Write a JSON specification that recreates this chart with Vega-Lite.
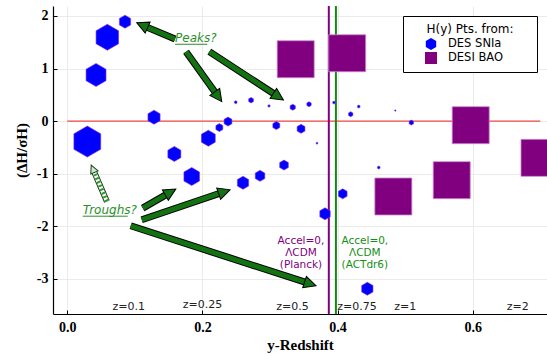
{
  "$schema": "https://vega.github.io/schema/vega-lite/v6.json",
  "width": 494,
  "height": 308,
  "autosize": {"type": "none"},
  "padding": {"left": 53, "top": 6, "right": 0, "bottom": 42},
  "background": "white",
  "config": {
    "view": {"stroke": null},
    "legend": {"symbolStrokeWidth": 0}
  },
  "datasets": {
    "hline": [{"x": 0, "x2": 0.7, "y": 0}],
    "vlines": [{"x": 0.387, "model": "Planck"}, {"x": 0.3975, "model": "ACTdr6"}],
    "bao": [
      {"x": 0.3380, "y": 1.177, "source": "DESI BAO"},
      {"x": 0.4142, "y": 1.291, "source": "DESI BAO"},
      {"x": 0.5970, "y": -0.078, "source": "DESI BAO"},
      {"x": 0.6988, "y": -0.700, "source": "DESI BAO"},
      {"x": 0.4825, "y": -1.435, "source": "DESI BAO"},
      {"x": 0.5689, "y": -1.124, "source": "DESI BAO"}
    ],
    "snia": [
      {"x": 0.0854, "y": 1.892, "w": 13, "source": "DES SNIa"},
      {"x": 0.0592, "y": 1.595, "w": 26, "source": "DES SNIa"},
      {"x": 0.0425, "y": 0.878, "w": 23, "source": "DES SNIa"},
      {"x": 0.0296, "y": -0.390, "w": 31, "source": "DES SNIa"},
      {"x": 0.1283, "y": 0.074, "w": 14, "source": "DES SNIa"},
      {"x": 0.1584, "y": -0.624, "w": 15, "source": "DES SNIa"},
      {"x": 0.1841, "y": -1.055, "w": 18, "source": "DES SNIa"},
      {"x": 0.2087, "y": -0.325, "w": 16, "source": "DES SNIa"},
      {"x": 0.2250, "y": -0.124, "w": 8, "source": "DES SNIa"},
      {"x": 0.2378, "y": -0.010, "w": 9, "source": "DES SNIa"},
      {"x": 0.2492, "y": 0.359, "w": 3, "source": "DES SNIa"},
      {"x": 0.2719, "y": 0.397, "w": 5.5, "source": "DES SNIa"},
      {"x": 0.2985, "y": 0.289, "w": 2.5, "source": "DES SNIa"},
      {"x": 0.3093, "y": -0.086, "w": 8, "source": "DES SNIa"},
      {"x": 0.2600, "y": -1.175, "w": 13, "source": "DES SNIa"},
      {"x": 0.2852, "y": -1.042, "w": 11, "source": "DES SNIa"},
      {"x": 0.3207, "y": -0.838, "w": 10, "source": "DES SNIa"},
      {"x": 0.3336, "y": 0.264, "w": 6, "source": "DES SNIa"},
      {"x": 0.3577, "y": 0.321, "w": 5, "source": "DES SNIa"},
      {"x": 0.3459, "y": -0.148, "w": 9, "source": "DES SNIa"},
      {"x": 0.3695, "y": -0.420, "w": 2, "source": "DES SNIa"},
      {"x": 0.3947, "y": 0.352, "w": 3, "source": "DES SNIa"},
      {"x": 0.4194, "y": 0.131, "w": 5, "source": "DES SNIa"},
      {"x": 0.4313, "y": 0.276, "w": 3, "source": "DES SNIa"},
      {"x": 0.4854, "y": 0.200, "w": 1.5, "source": "DES SNIa"},
      {"x": 0.5091, "y": -0.029, "w": 5, "source": "DES SNIa"},
      {"x": 0.4609, "y": -0.884, "w": 3, "source": "DES SNIa"},
      {"x": 0.3814, "y": -1.764, "w": 12, "source": "DES SNIa"},
      {"x": 0.4076, "y": -1.384, "w": 10, "source": "DES SNIa"},
      {"x": 0.4440, "y": -3.190, "w": 13, "source": "DES SNIa"}
    ],
    "arrows": [
      {"x": 0.1594, "y": 1.563, "x2": 0.1148, "y2": 1.802, "angle": 294.3, "kind": "solid"},
      {"x": 0.1757, "y": 1.321, "x2": 0.2208, "y2": 0.510, "angle": 144.5, "kind": "solid"},
      {"x": 0.2102, "y": 1.321, "x2": 0.3086, "y2": 0.496, "angle": 123.1, "kind": "solid"},
      {"x": 0.1116, "y": -1.656, "x2": 0.1489, "y2": -1.380, "angle": 60.1, "kind": "solid"},
      {"x": 0.1101, "y": -1.878, "x2": 0.2282, "y2": -1.363, "angle": 71.2, "kind": "solid"},
      {"x": 0.0938, "y": -1.992, "x2": 0.3553, "y2": -3.080, "angle": 107.9, "kind": "solid"},
      {"x": 0.0586, "y": -1.530, "x2": 0.0389, "y2": -0.943, "angle": 336.5, "kind": "hatched"}
    ],
    "zlabels": [
      {"x": 0.0909, "y": -3.60, "label": "z=0.1"},
      {"x": 0.2000, "y": -3.557, "label": "z=0.25"},
      {"x": 0.3333, "y": -3.60, "label": "z=0.5"},
      {"x": 0.4286, "y": -3.60, "label": "z=0.75"},
      {"x": 0.5000, "y": -3.60, "label": "z=1"},
      {"x": 0.6667, "y": -3.60, "label": "z=2"}
    ],
    "notes": [
      {"x": 0.1594, "y": 1.50, "label": "Peaks?"},
      {"x": 0.0228, "y": -1.764, "label": "Troughs?"}
    ],
    "underlines": [
      {"x": 0.1594, "x2": 0.2072, "y": 1.462},
      {"x": 0.0228, "x2": 0.0894, "y": -1.810}
    ],
    "accel": [
      {"x": 0.3458, "y": -2.278, "label": "Accel=0,\nΛCDM\n(Planck)", "model": "Planck"},
      {"x": 0.4403, "y": -2.278, "label": "Accel=0,\nΛCDM\n(ACTdr6)", "model": "ACTdr6"}
    ]
  },
  "layer": [
    {
      "data": {"name": "hline"},
      "mark": {"type": "rule", "color": "#ee4a44", "strokeWidth": 1.2},
      "encoding": {
        "x": {
          "field": "x", "type": "quantitative",
          "scale": {"domain": [-0.0212, 0.7099], "nice": false, "zero": false},
          "axis": {
            "title": "y-Redshift",
            "values": [0, 0.2, 0.4, 0.6],
            "format": ".1f",
            "labelFont": "Liberation Serif", "labelFontWeight": "bold", "labelFontSize": 14, "labelColor": "black",
            "titleFont": "Liberation Serif", "titleFontWeight": "bold", "titleFontSize": 15, "titleColor": "black",
            "titlePadding": 3,
            "domainColor": "black", "domainWidth": 1.2,
            "tickColor": "black", "tickSize": -4, "labelPadding": 10,
            "gridColor": "#e6e6e6", "gridWidth": 0.8
          }
        },
        "x2": {"field": "x2"},
        "y": {
          "field": "y", "type": "quantitative",
          "scale": {"domain": [-3.671, 2.19], "nice": false, "zero": false},
          "axis": {
            "title": "(ΔH/σH)",
            "values": [-3, -2, -1, 0, 1, 2],
            "format": "d",
            "labelExpr": "replace(datum.label, '−', '-')",
            "labelFont": "Liberation Serif", "labelFontWeight": "bold", "labelFontSize": 14, "labelColor": "black",
            "titleFont": "Liberation Serif", "titleFontWeight": "bold", "titleFontSize": 15, "titleColor": "black",
            "titleX": -31.5, "titleY": 144, "titleAngle": -90, "titleAlign": "center", "titleBaseline": "middle",
            "domainColor": "black", "domainWidth": 1.2,
            "tickColor": "black", "tickSize": -4, "labelPadding": 9,
            "gridColor": "#e6e6e6", "gridWidth": 0.8
          }
        }
      }
    },
    {
      "data": {"name": "vlines"},
      "transform": [{"filter": "datum.model == 'Planck'"}],
      "mark": {"type": "rule", "color": "#800080", "strokeWidth": 2},
      "encoding": {"x": {"field": "x", "type": "quantitative"}}
    },
    {
      "data": {"name": "vlines"},
      "transform": [{"filter": "datum.model == 'ACTdr6'"}],
      "mark": {"type": "rule", "color": "#128a12", "strokeWidth": 2},
      "encoding": {"x": {"field": "x", "type": "quantitative"}}
    },
    {
      "data": {"name": "bao"},
      "mark": {"type": "point", "filled": true, "opacity": 1, "size": 1369, "stroke": "#c98ac9", "strokeWidth": 0.8},
      "encoding": {
        "x": {"field": "x", "type": "quantitative"},
        "y": {"field": "y", "type": "quantitative"},
        "color": {
          "field": "source", "type": "nominal",
          "scale": {"domain": ["DES SNIa", "DESI BAO"], "range": ["#0000ff", "#800080"]},
          "legend": {
            "title": "\u200b\u00a0\u00a0\u00a0\u00a0H(y) Pts. from:\u00a0\u00a0\u00a0\u00a0\u200b",
            "orient": "top-right", "offset": 10, "padding": 8,
            "fillColor": "white", "strokeColor": "black",
            "titleFont": "DejaVu Sans", "titleFontSize": 12, "titleFontWeight": "normal", "titleColor": "black",
            "titleAnchor": "middle", "titlePadding": 2,
            "labelFont": "DejaVu Sans", "labelFontSize": 11.5, "labelColor": "black",
            "symbolSize": 144, "symbolOffset": -11, "labelOffset": 11, "rowPadding": 2
          }
        },
        "shape": {
          "field": "source", "type": "nominal",
          "scale": {"domain": ["DES SNIa", "DESI BAO"], "range": ["M0,-1L0.866,-0.5L0.866,0.5L0,1L-0.866,0.5L-0.866,-0.5Z", "square"]},
          "legend": {
            "title": "\u200b\u00a0\u00a0\u00a0\u00a0H(y) Pts. from:\u00a0\u00a0\u00a0\u00a0\u200b",
            "orient": "top-right", "offset": 10, "padding": 8,
            "fillColor": "white", "strokeColor": "black",
            "titleFont": "DejaVu Sans", "titleFontSize": 12, "titleFontWeight": "normal", "titleColor": "black",
            "titleAnchor": "middle", "titlePadding": 2,
            "labelFont": "DejaVu Sans", "labelFontSize": 11.5, "labelColor": "black",
            "symbolSize": 144, "symbolOffset": -11, "labelOffset": 11, "rowPadding": 2
          }
        }
      }
    },
    {
      "data": {"name": "snia"},
      "mark": {"type": "point", "filled": true, "opacity": 1, "stroke": "#8a2be2", "strokeWidth": 0.6},
      "encoding": {
        "x": {"field": "x", "type": "quantitative"},
        "y": {"field": "y", "type": "quantitative"},
        "size": {"field": "w", "type": "quantitative", "scale": {"type": "pow", "exponent": 2, "domain": [0, 31], "range": [0, 961]}, "legend": null},
        "color": {"field": "source", "type": "nominal"},
        "shape": {"field": "source", "type": "nominal"}
      }
    },
    {
      "data": {"name": "arrows"},
      "transform": [{"filter": "datum.kind == 'solid'"}],
      "mark": {"type": "rule", "color": "black", "strokeWidth": 7, "strokeCap": "butt"},
      "encoding": {
        "x": {"field": "x", "type": "quantitative"}, "y": {"field": "y", "type": "quantitative"},
        "x2": {"field": "x2"}, "y2": {"field": "y2"}
      }
    },
    {
      "data": {"name": "arrows"},
      "transform": [{"filter": "datum.kind == 'solid'"}],
      "mark": {"type": "rule", "color": "#137313", "strokeWidth": 5, "strokeCap": "butt"},
      "encoding": {
        "x": {"field": "x", "type": "quantitative"}, "y": {"field": "y", "type": "quantitative"},
        "x2": {"field": "x2"}, "y2": {"field": "y2"}
      }
    },
    {
      "data": {"name": "arrows"},
      "transform": [{"filter": "datum.kind == 'solid'"}],
      "mark": {"type": "point", "shape": "M0,-1.5L1,0.5L-1,0.5Z", "size": 144, "filled": true, "fill": "#137313", "stroke": "black", "strokeWidth": 1, "opacity": 1},
      "encoding": {
        "x": {"field": "x2", "type": "quantitative"}, "y": {"field": "y2", "type": "quantitative"},
        "angle": {"field": "angle", "type": "quantitative", "scale": null}
      }
    },
    {
      "data": {"name": "arrows"},
      "transform": [{"filter": "datum.kind == 'hatched'"}],
      "mark": {"type": "rule", "color": "#1d3d1d", "strokeWidth": 6, "strokeCap": "butt"},
      "encoding": {
        "x": {"field": "x", "type": "quantitative"}, "y": {"field": "y", "type": "quantitative"},
        "x2": {"field": "x2"}, "y2": {"field": "y2"}
      }
    },
    {
      "data": {"name": "arrows"},
      "transform": [{"filter": "datum.kind == 'hatched'"}],
      "mark": {"type": "rule", "color": "white", "strokeWidth": 4, "strokeCap": "butt"},
      "encoding": {
        "x": {"field": "x", "type": "quantitative"}, "y": {"field": "y", "type": "quantitative"},
        "x2": {"field": "x2"}, "y2": {"field": "y2"}
      }
    },
    {
      "data": {"name": "arrows"},
      "transform": [{"filter": "datum.kind == 'hatched'"}],
      "mark": {"type": "rule", "color": "#2a9a2a", "strokeWidth": 4, "strokeCap": "butt", "strokeDash": [2, 2]},
      "encoding": {
        "x": {"field": "x", "type": "quantitative"}, "y": {"field": "y", "type": "quantitative"},
        "x2": {"field": "x2"}, "y2": {"field": "y2"}
      }
    },
    {
      "data": {"name": "arrows"},
      "transform": [{"filter": "datum.kind == 'hatched'"}],
      "mark": {"type": "point", "shape": "M0,-1.5L1,0.5L-1,0.5Z", "size": 64, "filled": true, "fill": "#cfe8cf", "stroke": "#1d3d1d", "strokeWidth": 1, "opacity": 1},
      "encoding": {
        "x": {"field": "x2", "type": "quantitative"}, "y": {"field": "y2", "type": "quantitative"},
        "angle": {"field": "angle", "type": "quantitative", "scale": null}
      }
    },
    {
      "data": {"name": "underlines"},
      "mark": {"type": "rule", "color": "#2a8f2a", "strokeWidth": 1},
      "encoding": {
        "x": {"field": "x", "type": "quantitative"}, "x2": {"field": "x2"},
        "y": {"field": "y", "type": "quantitative"}
      }
    },
    {
      "data": {"name": "notes"},
      "mark": {"type": "text", "align": "left", "baseline": "alphabetic", "font": "DejaVu Sans", "fontStyle": "italic", "fontSize": 12, "color": "#2a8f2a"},
      "encoding": {
        "x": {"field": "x", "type": "quantitative"}, "y": {"field": "y", "type": "quantitative"},
        "text": {"field": "label"}
      }
    },
    {
      "data": {"name": "zlabels"},
      "mark": {"type": "text", "align": "center", "baseline": "alphabetic", "font": "DejaVu Sans", "fontSize": 11, "color": "#222222"},
      "encoding": {
        "x": {"field": "x", "type": "quantitative"}, "y": {"field": "y", "type": "quantitative"},
        "text": {"field": "label"}
      }
    },
    {
      "data": {"name": "accel"},
      "transform": [{"filter": "datum.model == 'Planck'"}],
      "mark": {"type": "text", "align": "center", "baseline": "middle", "lineBreak": "\n", "lineHeight": 12.3, "font": "DejaVu Sans", "fontSize": 10.5, "color": "#800080"},
      "encoding": {
        "x": {"field": "x", "type": "quantitative"}, "y": {"field": "y", "type": "quantitative"},
        "text": {"field": "label"}
      }
    },
    {
      "data": {"name": "accel"},
      "transform": [{"filter": "datum.model == 'ACTdr6'"}],
      "mark": {"type": "text", "align": "center", "baseline": "middle", "lineBreak": "\n", "lineHeight": 12.3, "font": "DejaVu Sans", "fontSize": 10.5, "color": "#159015"},
      "encoding": {
        "x": {"field": "x", "type": "quantitative"}, "y": {"field": "y", "type": "quantitative"},
        "text": {"field": "label"}
      }
    }
  ]
}
